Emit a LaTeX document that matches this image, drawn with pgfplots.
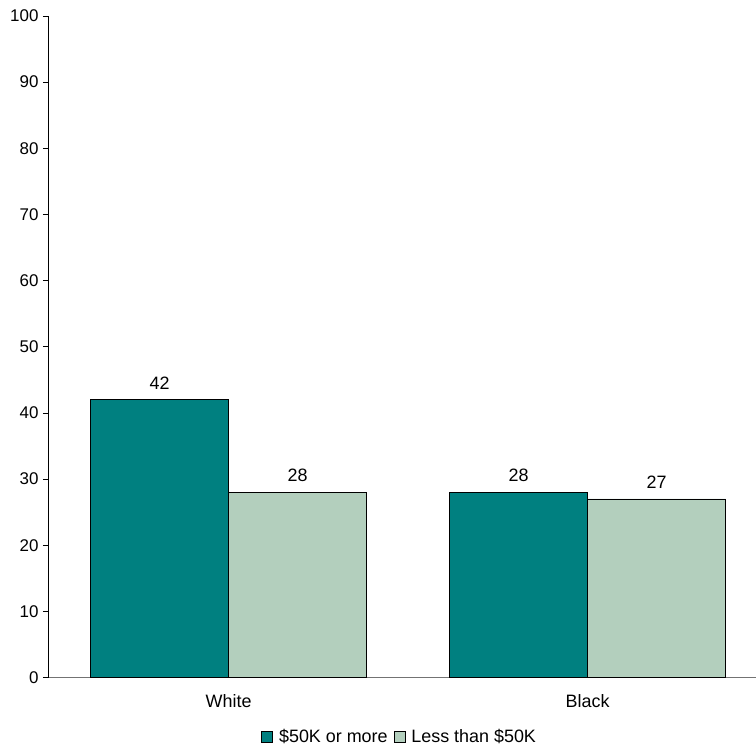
\documentclass[border=0pt]{standalone}
\usepackage{pgfplots}
\pgfplotsset{compat=1.18}
\usepackage{fontspec}
\setmainfont{Liberation Sans}
\definecolor{tealbar}{RGB}{0,128,128}
\definecolor{lightbar}{RGB}{179,207,189}
\begin{document}
\begin{tikzpicture}
\begin{axis}[
  scale only axis,
  width=708bp, height=662bp,
  anchor=south west, at={(0,0)},
  ybar,
  xmin=-0.503, xmax=1.4676,
  ymin=0, ymax=100,
  ytick={0,10,...,100},
  xtick={0,1},
  xticklabels={White,Black},
  axis x line=bottom,
  axis y line=left,
  x axis line style={-, draw=black!55, line width=0.9pt},
  y axis line style={-, draw=black, line width=0.8pt},
  xtick style={draw=none},
  ytick style={draw=black, line width=0.6pt},
  tick align=outside,
  major tick length=5bp,
  yticklabel style={font=\fontsize{17}{19}\selectfont, xshift=-1bp},
  xticklabel style={font=\fontsize{18}{20}\selectfont, yshift=-8bp},
  /pgf/number format/assume math mode=true,
  clip=false,
  bar width=0.384,
  nodes near coords,
  every node near coord/.append style={font=\fontsize{18}{20}\selectfont, anchor=south, yshift=7bp},
  legend style={
    at={(0.497,0)}, anchor=center, yshift=-59bp,
    draw=none, font=\fontsize{18}{20}\selectfont,
    legend columns=2,
    /tikz/every even column/.append style={column sep=4bp},
    inner sep=0pt,
  },
  legend image code/.code={\draw[#1, draw=black, line width=0.8pt] (0bp,-5.5bp) rectangle (11bp,5.5bp);},
]
\addplot[bar shift=-0.192, fill=tealbar, draw=black, line width=0.8pt]
  coordinates {(0,42) (1,28)};
\addlegendentry{\hspace{4bp}\$50K or more}
\addplot[bar shift=0.192, fill=lightbar, draw=black, line width=0.8pt]
  coordinates {(0,28) (1,27)};
\addlegendentry{\hspace{4bp}Less than \$50K}
\end{axis}
\path[use as bounding box] (-48bp,-71bp) rectangle (708bp,678bp);
\end{tikzpicture}
\end{document}
